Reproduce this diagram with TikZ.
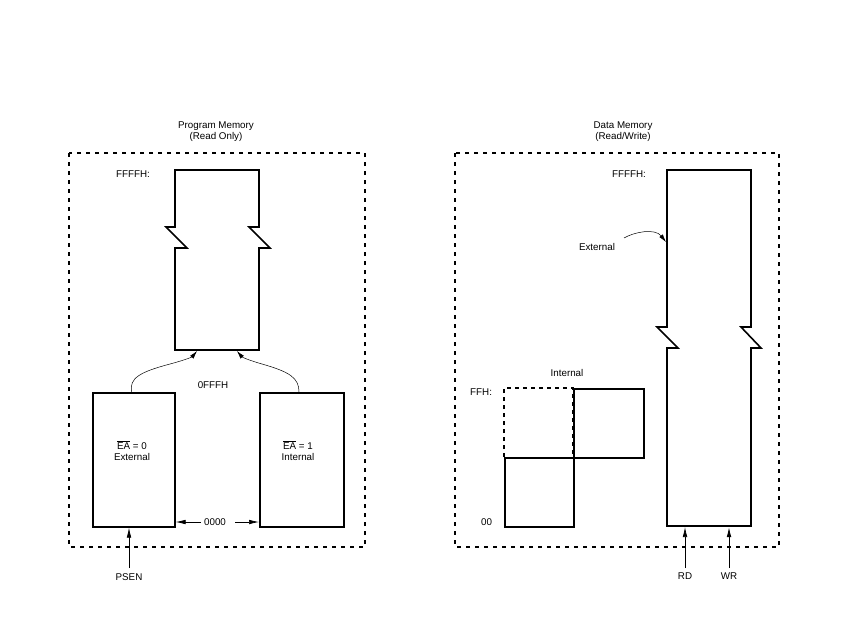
\documentclass[tikz,border=0pt]{standalone}
\usepackage{fontspec}
\setmainfont{Liberation Sans}
\usetikzlibrary{arrows.meta}
\begin{document}
\begin{tikzpicture}[x=1pt,y=-1pt,
  lbl/.style={font=\fontsize{9.8}{11}\selectfont, inner sep=0pt, align=center},
  frame/.style={line width=2.4pt, dash pattern=on 4pt off 5pt},
  mem/.style={line width=1.6pt},
  blk/.style={draw, mem, anchor=north west, inner sep=0pt},
  sig/.style={line width=0.7pt, -{Latex[length=10pt,width=4.6pt]}},
  thin/.style={line width=0.5pt, -{Latex[length=8pt,width=4.4pt]}},
]
\useasboundingbox (0,0) rectangle (850,638);

% ---------------- Program memory ----------------
\node[lbl] (pmt) at (216,132) {Program Memory\\(Read Only)};
\draw[frame] (69,153) rectangle (365,547);

\node[lbl, anchor=west] (pff) at (116,174) {FFFFH:};
\draw[mem] (175,227) -- (175,170) -- (259,170) -- (259,227) -- (249,227) -- (270,248) -- (259,248) -- (259,350)
   -- (175,350) -- (175,248) -- (187,248) -- (166,227) -- cycle;
\coordinate (pmL) at (197,351);
\coordinate (pmR) at (237,351);

\node[blk, minimum width=82pt, minimum height=134pt] (ext) at (92,392) {};
\node[blk, minimum width=84pt, minimum height=134pt] (int) at (259,392) {};
\node[lbl] (ea0) at (132,451) {$\overline{\hbox{EA}}$ = 0\\External};
\node[lbl] (ea1) at (298,451) {$\overline{\hbox{EA}}$ = 1\\Internal};
\node[lbl] (offf) at (213,385) {0FFFH};
\node[lbl] (z) at (215,522) {0000};

\draw[thin] ([xshift=-44pt]ext.north east) .. controls (129,378) and (140,372) .. (170,364) .. controls (185,360) and (192,357) .. (pmL);
\draw[thin] ([xshift=40pt]int.north west) .. controls (299,378) and (290,372) .. (262,364) .. controls (248,360) and (242,357) .. (pmR);
\draw[sig] (z.west) ++(-3pt,0) -- (ext.east |- z);
\draw[sig] (z.east) ++(9pt,0) -- (int.west |- z);

\node[lbl, anchor=north] (psen) at (129,573) {PSEN};
\draw[sig] (psen.north) ++(0,-5) -- (psen.north |- ext.south);

% ---------------- Data memory ----------------
\node[lbl] (dmt) at (623,132) {Data Memory\\(Read/Write)};
\draw[frame] (455,153) rectangle (779,547);

\node[lbl, anchor=west] (dff) at (612,174) {FFFFH:};
\draw[mem] (667,327) -- (667,170) -- (751,170) -- (751,327) -- (741,327) -- (761,348) -- (751,348) -- (751,526)
   -- (667,526) -- (667,348) -- (678,348) -- (657,327) -- cycle;
\coordinate (dmL) at (666,242);
\coordinate (dmBL) at (685,527);
\coordinate (dmBR) at (729,527);

\node[lbl] (extl) at (597,247) {External};
\draw[thin] (624,238) .. controls (634,232) and (655,228) .. (dmL);

\node[lbl] (intl) at (567,373) {Internal};
\node[lbl, anchor=west] (ffh) at (470,392) {FFH:};
\node[lbl, anchor=west] (zz) at (481,522) {00};
\draw[line width=1.1pt, dash pattern=on 4pt off 4pt] (504,457) -- (504,388) -- (573,388) -- (573,457);
\node[blk, minimum width=70pt, minimum height=69pt] (sqa) at (573,388) {};
\node[blk, minimum width=69pt, minimum height=69pt] (sqb) at (504,457) {};

\node[lbl, anchor=north] (rd) at (685,573) {RD};
\node[lbl, anchor=north] (wr) at (729,573) {WR};
\draw[sig] (rd.north) ++(0,-5) -- (dmBL);
\draw[sig, line width=1pt] (wr.north) ++(0,-5) -- (dmBR);
\end{tikzpicture}
\end{document}
